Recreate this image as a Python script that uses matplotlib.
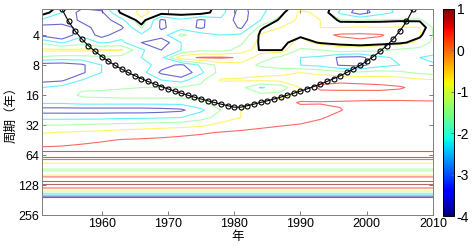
import numpy as np
import matplotlib
matplotlib.use("Agg")
import matplotlib.pyplot as plt
from matplotlib import cm
from matplotlib.colors import Normalize

plt.rcParams['font.family'] = ['Liberation Sans', 'Noto Sans CJK SC']
plt.rcParams['font.size'] = 9

# years of the series and the cone of influence (period, years)
years = np.arange(1951, 2011)
coi_period = [0.00001, 0.73, 1.46, 2.19, 2.92, 3.65, 4.38, 5.11, 5.84, 6.57,
              7.31, 8.04, 8.77, 9.50, 10.23, 10.96, 11.69, 12.42, 13.15, 13.88,
              14.61, 15.34, 16.07, 16.80, 17.53, 18.26, 18.99, 19.72, 20.45, 21.18,
              21.18, 20.45, 19.72, 18.99, 18.26, 17.53, 16.80, 16.07, 15.34, 14.61,
              13.88, 13.15, 12.42, 11.69, 10.96, 10.23, 9.50, 8.77, 8.04, 7.31,
              6.57, 5.84, 5.11, 4.38, 3.65, 2.92, 2.19, 1.46, 0.73, 0.00001]

# log2 wavelet power, short periods (varies with time)
grid_years = [1951, 1954, 1957, 1960, 1963, 1966, 1969, 1972, 1975, 1978, 1981,
              1984, 1987, 1990, 1993, 1996, 1999, 2002, 2005, 2008, 2011]
upper_log2_period = [1.0, 1.25, 1.5, 1.75, 2.0, 2.25, 2.5, 2.75, 3.0, 3.25,
                     3.5, 3.75, 4.0, 4.25, 4.5, 4.75, 5.0, 5.25, 5.5, 5.75]
upper_power = [
    [-0.5, -2.3, -3.6, -3.4, -1.5, -1.0, -1.2, -1.1, -1.3, -2.4, -4.3, -3.3, -2.6, -1.6, -1.3, -2.6, -4.3, -3.2, -2.8, -2.6, -2.8],
    [-1.4, -3.0, -4.4, -4.2, -1.8, -0.7, -1.5, -1.4, -1.5, -2.6, -4.5, -3.2, -2.3, -0.8, -1.2, -3.2, -4.6, -3.4, -2.8, -2.5, -2.6],
    [-3.2, -3.0, -4.3, -4.6, -3.3, -1.2, -4.2, -3.2, -4.2, -3.2, -4.5, -3.0, -1.6, -0.8, -1.0, -1.95, -2.0, -1.95, -1.9, -1.9, -2.6],
    [-4.4, -4.8, -3.4, -4.7, -4.2, -1.9, -4.2, -3.4, -4.2, -3.0, -4.2, -1.6, -1.0, -0.7, -1.0, -1.0, -0.9, -1.0, -0.9, -1.0, -2.6],
    [-4.3, -5.0, -3.2, -4.4, -3.3, -3.2, -3.5, -1.8, -2.5, -3.0, -2.8, -0.9, -0.5, -0.9, -0.3, 0.15, 0.2, 0.1, -0.4, -0.9, -2.6],
    [-2.2, -3.1, -2.4, -3.1, -2.8, -4.0, -4.7, -3.0, -2.4, -2.8, -2.2, -0.6, -0.5, -1.3, -0.7, -0.5, -0.2, -0.4, -0.6, -1.2, -2.8],
    [-0.8, -0.8, -0.8, -0.85, -0.9, -2.8, -4.0, -3.0, -2.2, -2.4, -1.6, -0.5, -0.5, -2.2, -2.0, -1.4, -1.6, -1.8, -2.2, -2.4, -2.8],
    [-2.2, -2.4, -2.4, -2.2, -2.4, -3.0, -3.3, -0.3, 0.1, 0.15, -0.1, -1.6, -2.2, -3.0, -3.2, -4.2, -4.3, -3.2, -2.8, -3.0, -3.2],
    [-4.5, -4.6, -4.2, -3.0, -2.8, -2.4, -3.6, -4.2, -2.8, -1.6, -1.4, -2.2, -2.6, -3.0, -3.3, -4.1, -4.3, -3.4, -3.0, -2.8, -3.0],
    [-4.6, -4.5, -4.2, -3.0, -2.8, -2.6, -4.2, -5.0, -3.2, -1.6, -1.3, -1.2, -1.2, -1.0, -1.3, -1.6, -1.8, -1.6, -1.8, -2.2, -2.4],
    [-4.4, -4.2, -3.0, -2.8, -2.6, -2.4, -3.0, -3.4, -2.2, -0.9, -0.9, -0.8, -0.7, -0.3, -0.3, -0.2, -0.3, -0.4, -0.5, -0.8, -1.0],
    [-3.0, -2.6, -2.2, -2.2, -2.1, -2.0, -2.0, -1.9, -1.8, -1.6, -1.7, -3.1, -2.6, -1.0, 0.2, 0.3, 0.3, 0.25, 0.1, -0.3, -0.6],
    [-3.0, -2.6, -1.8, -1.7, -1.6, -1.6, -1.6, -1.6, -1.5, -1.3, -1.3, -1.7, -1.6, -0.6, -0.4, -0.5, -0.5, -0.4, -0.4, -0.5, -0.6],
    [-2.8, -2.8, -2.6, -2.6, -2.6, -2.6, -2.6, -2.6, -2.2, -1.5, -1.2, -0.9, -0.4, 0.1, 0.05, 0.1, 0.15, 0.15, 0.15, 0.15, 0.15],
    [-4.5, -4.5, -4.5, -4.5, -4.5, -4.5, -4.4, -4.2, -3.2, -2.0, -1.0, -0.9, -0.6, -0.3, -0.2, -0.05, 0.4, 0.4, 0.4, 0.4, 0.4],
    [-3.3, -3.3, -3.3, -3.3, -3.2, -3.2, -3.1, -3.0, -2.4, -1.6, -1.0, -0.6, -0.4, -0.3, -0.1, 0.3, 0.5, 0.5, 0.5, 0.5, 0.5],
    [-2.0, -2.0, -1.9, -1.8, -1.7, -1.6, -1.5, -1.4, -1.2, -0.7, -0.4, -0.2, -0.05, 0.05, 0.3, 0.5, 0.5, 0.5, 0.5, 0.5, 0.5],
    [-1.05, -0.95, -0.85, -0.75, -0.6, -0.5, -0.35, -0.2, -0.1, 0.05, 0.15, 0.25, 0.3, 0.4, 0.5, 0.5, 0.5, 0.5, 0.5, 0.5, 0.5],
    [-0.5, -0.4, -0.25, -0.1, 0.05, 0.1, 0.15, 0.2, 0.3, 0.4, 0.45, 0.5, 0.5, 0.5, 0.5, 0.5, 0.5, 0.5, 0.5, 0.5, 0.5],
    [0.05, 0.1, 0.2, 0.3, 0.4, 0.45, 0.5, 0.5, 0.5, 0.5, 0.5, 0.5, 0.5, 0.5, 0.5, 0.5, 0.5, 0.5, 0.5, 0.5, 0.5],
]
# 95% significance level (log2 power) for each short-period row
upper_sig_level = [-2.0, -2.0, -1.8, -1.5, -1.1, -0.8, -0.6, 9, 9, 9,
                   9, 9, 9, 9, 9, 9, 9, 9, 9, 9]

# long periods: power is the same for every year
lower_log2_period = [5.85, 5.95, 6.08, 6.15, 6.27, 6.47, 6.5, 6.53, 6.67, 6.73, 6.87,
                     6.92, 6.97, 7.1, 7.2, 7.27, 7.3, 7.37, 7.39, 7.45, 8.3]
lower_power = [1.0, 1.3, 1.0, 0.0, -1.0, -2.0, -2.3, -2.0, -1.0, 0.0, 1.0,
               1.2, 1.0, 0.0, -1.0, -2.0, -3.0, -4.0, -5.0, -5.5, -5.5]

y_ticks = [4, 8, 16, 32, 64, 128, 256]
x_ticks = [1960, 1970, 1980, 1990, 2000, 2010]
cbar_ticks = [1, 0, -1, -2, -3, -4]
levels = [-5, -4, -3, -2, -1, 0, 1]

n_col = len(grid_years)
log2_period = np.array(upper_log2_period + lower_log2_period)
power = np.vstack([np.array(upper_power),
                   np.tile(np.array(lower_power)[:, None], (1, n_col))])
sig_level = np.array(upper_sig_level + [9] * len(lower_log2_period))
sig95 = power - sig_level[:, None]

# line colour of each level, taken from the jet bar as it looks in the picture
jet = plt.get_cmap('jet')
line_colors = [jet(p) for p in [0.0, 0.04, 0.35, 0.5, 0.66, 0.9, 1.0]]

fig = plt.figure(figsize=(4.72, 2.52), dpi=100)
ax = fig.add_axes([42 / 472, 1 - 215 / 252, 391 / 472, 206 / 252])

ax.contour(grid_years, log2_period, power, levels=levels, colors=line_colors,
           linewidths=0.8, alpha=0.6)
ax.contour(grid_years, log2_period, sig95, levels=[0], colors='k', linewidths=1.4)
ax.plot(years, np.log2(coi_period), 'k-o', lw=0.8, ms=3.6, mfc='none', mew=0.8)

ax.set_xlim(1951, 2010)
ax.set_ylim(8, np.log2(2.19))
ax.set_xticks(x_ticks)
ax.set_yticks(np.log2(y_ticks))
ax.set_yticklabels([str(t) for t in y_ticks])
ax.tick_params(direction='in', top=True, right=True, length=3, width=0.6,
               color='0.4', pad=2, labelsize=9)
for s in ax.spines.values():
    s.set_color('0.5')
    s.set_linewidth(0.7)
ax.set_xlabel('年', labelpad=1)
ax.set_ylabel('周期（年）', labelpad=1)

cax = fig.add_axes([443 / 472, 1 - 216 / 252, 11 / 472, 207 / 252])
cb = fig.colorbar(cm.ScalarMappable(norm=Normalize(-4, 1), cmap='jet'), cax=cax)
cb.set_ticks(cbar_ticks)
cb.set_ticklabels([str(t) for t in cbar_ticks])
cb.ax.tick_params(direction='in', length=2, width=0.6, color='0.4', pad=2, labelsize=10)
cb.outline.set_linewidth(0.7)

fig.savefig('out.png', dpi=100, facecolor='w')
